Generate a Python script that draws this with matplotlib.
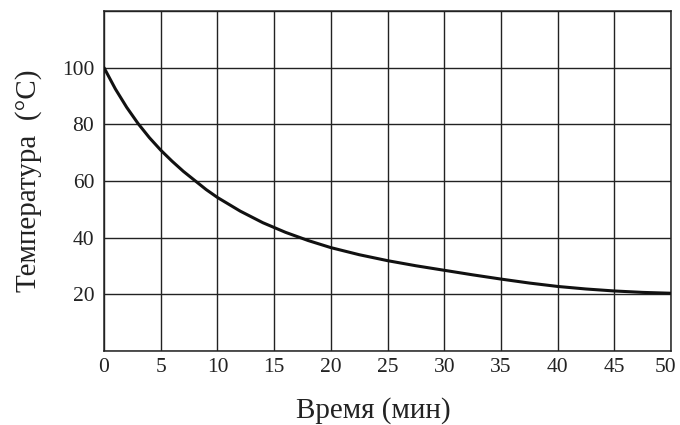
import numpy as np
import matplotlib.pyplot as plt
import matplotlib.transforms as mtransforms

plt.rcParams['font.family'] = ['Liberation Serif', 'DejaVu Serif']

# time (min) and temperature (C)
time_min = [0, 1, 2, 3, 4, 5, 6, 7, 8, 9, 10, 12, 14, 16, 18, 20,
            22.5, 25, 27.5, 30, 32.5, 35, 37.5, 40, 42.5, 45, 47.5, 50]
temp_c = [100, 92.5, 86.0, 80.3, 75.3, 70.9, 67.0, 63.4, 60.2, 57.0, 54.2, 49.4, 45.3,
          41.9, 39.0, 36.5, 34.0, 31.9, 30.1, 28.5, 26.9, 25.4, 24.0, 22.8, 21.9, 21.2,
          20.7, 20.4]

x_ticks = list(range(0, 51, 5))
y_ticks = [20, 40, 60, 80, 100]

fig = plt.figure(figsize=(6.8, 4.25), dpi=100)
ax = fig.add_axes([0.153, 0.174, 0.834, 0.800])

ax.plot(time_min, temp_c, color='#111111', lw=2.2, solid_joinstyle='round',
        solid_capstyle='round', zorder=3)

ax.set_xlim(0, 50)
ax.set_ylim(0, 120)
ax.set_xticks(x_ticks)
ax.set_yticks([0] + y_ticks + [120])
ax.set_yticklabels([''] + [str(v) for v in y_ticks] + [''])
ax.grid(True, color='#222222', lw=1.0)
ax.set_axisbelow(True)
ax.tick_params(length=0, labelsize=15.5, colors='#222222')
ax.tick_params(axis='x', pad=5)
ax.tick_params(axis='y', pad=7)
for s in ax.spines.values():
    s.set_color('#222222')
    s.set_linewidth(1.1)

# last x label sits a bit left of its grid line, as in the original
last = ax.get_xticklabels()[-1]
last.set_transform(last.get_transform() +
                   mtransforms.ScaledTranslation(-4 / 72, 0, fig.dpi_scale_trans))

ax.set_xlabel('Время (мин)', fontsize=21, color='#222222')
ax.set_ylabel('Температура  (°C)', fontsize=21, color='#222222')
ax.xaxis.set_label_coords(0.475, -0.136)
ax.yaxis.set_label_coords(-0.109, 0.5)

fig.savefig('out.png', dpi=100)
